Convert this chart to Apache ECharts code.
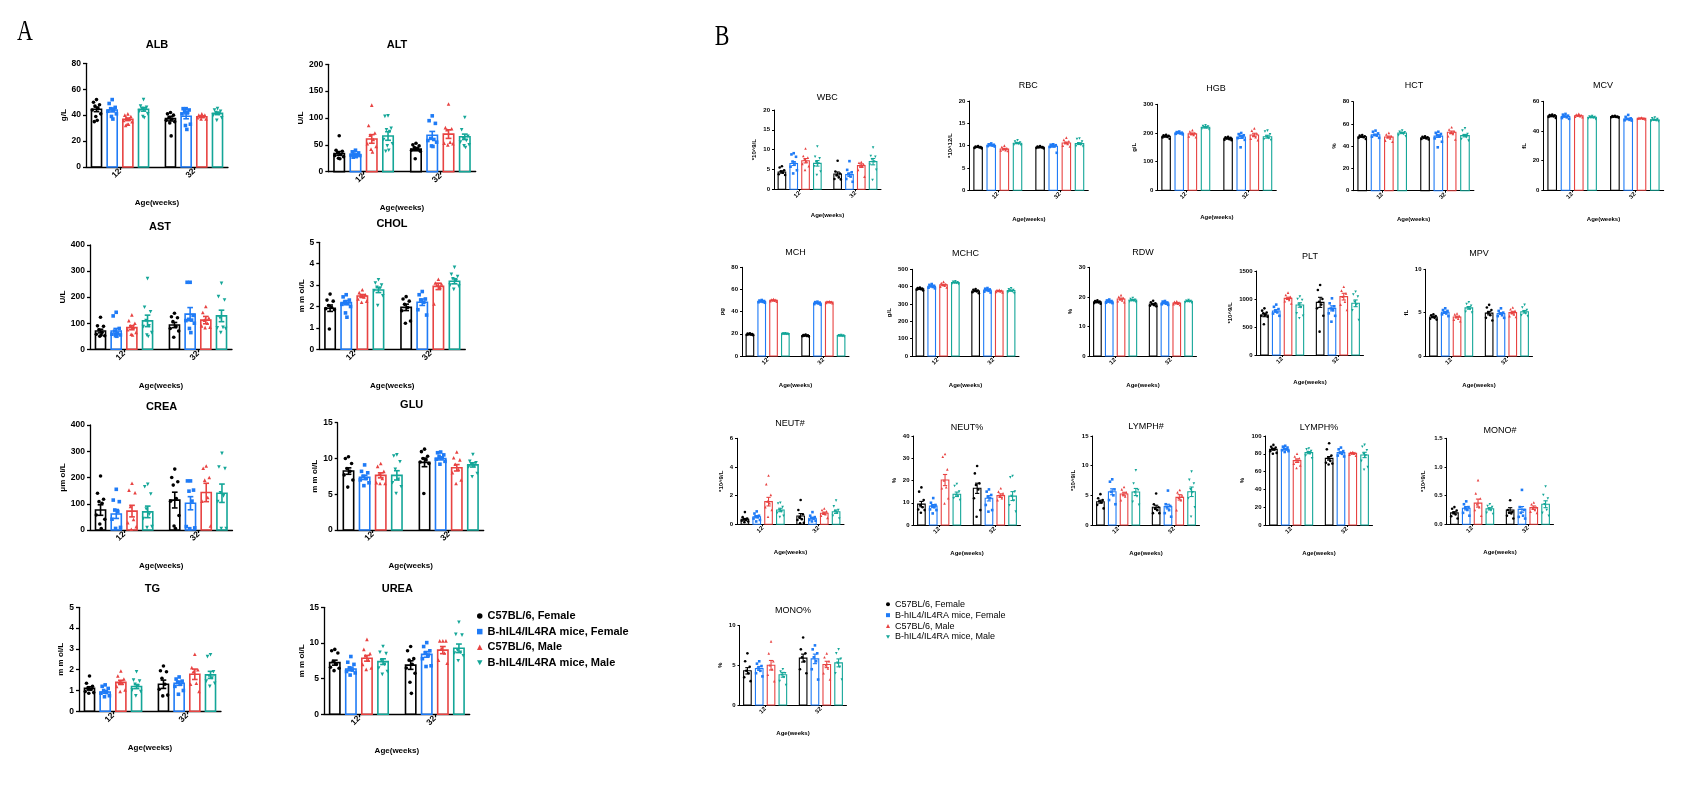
<!DOCTYPE html>
<html><head><meta charset="utf-8">
<script src="https://cdn.jsdelivr.net/npm/echarts@6/dist/echarts.min.js"></script>
<style>html,body{margin:0;padding:0;background:#fff}#c{width:1688px;height:785px}</style>
</head><body><div id="c"></div>
<script>
// ---------------- DATA ----------------
const groups = ['12', '32'];
const seriesNames = ['C57BL/6, Female', 'B-hIL4/IL4RA mice, Female', 'C57BL/6, Male', 'B-hIL4/IL4RA mice, Male'];
// each *_mean / *_sem : [series][group(12,32)] ; each *_pts : [series][group][points]

const ALB_mean = [[44.5, 37.3], [44, 39.1], [36.8, 38.8], [44.5, 41.4]];
const ALB_sem = [[1.8, 1.8], [1.5, 1.9], [1, 0.6], [1.4, 1]];
const ALB_pts = [[[52, 50, 48, 47, 45, 44, 41, 39, 36, 35], [42, 41, 40, 38, 37, 36, 35, 34, 24]],
  [[52, 49, 46, 45, 44, 43, 41, 39, 37], [45, 45, 44, 43, 42, 41, 33, 32, 29]],
  [[41, 40, 39, 38, 37, 36, 35, 33, 33, 32], [41, 40, 40, 39, 39, 38, 37, 37]],
  [[52, 47, 46, 45, 44, 43, 41, 39, 38], [45, 44, 43, 42, 41, 40, 38, 36]]];

const ALT_mean = [[34, 42], [31, 68], [61, 70], [66.5, 65]];
const ALT_sem = [[3.5, 3], [1.5, 7], [8, 8], [8, 5]];
const ALT_pts = [[[67, 40, 38, 35, 32, 30, 28, 25, 24], [53, 50, 48, 45, 42, 40, 38, 24]],
  [[40, 37, 35, 33, 32, 31, 30, 29, 28, 27], [104, 95, 90, 62, 60, 58, 55, 48, 47]],
  [[124, 86, 72, 68, 60, 52, 47, 42, 37], [126, 82, 80, 78, 55, 53, 52, 50]],
  [[104, 103, 81, 78, 75, 60, 52, 48, 40, 38], [101, 78, 66, 62, 58, 55, 50, 48, 45]]];

const AST_mean = [[70, 93], [70, 135], [83, 112], [109, 128]];
const AST_sem = [[7, 10], [10, 25], [8, 14], [22, 22]];
const AST_pts = [[[123, 90, 88, 75, 65, 58, 52, 50, 55], [138, 125, 121, 106, 87, 80, 70, 46]],
  [[142, 128, 80, 70, 62, 58, 55, 52, 50], [257, 257, 130, 115, 112, 110, 100, 80, 64]],
  [[132, 110, 100, 90, 85, 75, 65, 58, 55], [164, 141, 120, 112, 100, 90, 85, 83]],
  [[271, 161, 144, 110, 90, 87, 64, 55, 49], [253, 202, 189, 120, 84, 82, 80, 64]]];

const CHOL_mean = [[1.92, 1.96], [2.18, 2.2], [2.49, 2.94], [2.77, 3.18]];
const CHOL_sem = [[0.15, 0.15], [0.1, 0.15], [0.07, 0.15], [0.12, 0.12]];
const CHOL_pts = [[[2.58, 2.3, 2.25, 2.05, 1.95, 1.9, 1.85, 0.95], [2.46, 2.35, 2.25, 2.1, 1.95, 1.8, 1.32, 1.22]],
  [[2.55, 2.45, 2.3, 2.2, 2.15, 2.1, 2.0, 1.7, 1.5], [2.7, 2.55, 2.35, 2.3, 2.2, 1.85, 1.6]],
  [[2.78, 2.65, 2.55, 2.5, 2.45, 2.35, 2.25, 2.2], [3.27, 3.1, 3.05, 3.0, 2.9, 2.12]],
  [[3.25, 3.1, 3.0, 2.9, 2.85, 2.75, 2.5, 2.05], [3.83, 3.5, 3.4, 3.3, 3.2, 3.0, 2.95, 2.8]]];

const CREA_mean = [[76, 114], [61, 102], [72, 143], [69, 140]];
const CREA_sem = [[20, 30], [17, 25], [22, 35], [22, 35]];
const CREA_pts = [[[206, 140, 117, 108, 102, 57, 41, 23, 6], [232, 200, 184, 171, 120, 110, 55, 15, 6]],
  [[155, 114, 108, 76, 70, 41, 10, 6], [187, 187, 152, 148, 110, 13, 8, 5]],
  [[178, 152, 142, 90, 40, 28, 13, 3], [244, 235, 200, 190, 124, 110, 15]],
  [[174, 165, 137, 80, 60, 44, 13, 9], [292, 240, 234, 142, 130, 108, 6, 6]]];

const GLU_mean = [[8.24, 9.45], [7.36, 10.0], [7.64, 8.7], [7.64, 9.1]];
const GLU_sem = [[0.45, 0.6], [0.3, 0.2], [0.35, 0.45], [0.65, 0.3]];
const GLU_pts = [[[10.25, 10, 9.3, 8.6, 8.2, 7.7, 7.0, 6.0], [11.3, 10.95, 10.3, 10, 9.8, 9.5, 9.3, 5.1]],
  [[9.1, 8.2, 8.0, 7.5, 7.2, 7.0, 6.6, 6.2], [10.9, 10.8, 10.5, 10.3, 10.1, 9.9, 9.6, 9.2]],
  [[9.3, 8.9, 8.2, 7.8, 7.2, 6.6, 6.5, 6.5], [10.9, 10.1, 9.8, 9.2, 8.5, 8.0, 7.0, 6.5]],
  [[10.5, 10.35, 9.55, 8.5, 7.1, 6.6, 6.05, 5.1], [10.55, 9.6, 9.4, 9.2, 9.0, 8.8, 7.9, 7.45]]];

const TG_mean = [[1.1, 1.3], [0.93, 1.35], [1.39, 1.78], [1.19, 1.75]];
const TG_sem = [[0.08, 0.2], [0.06, 0.1], [0.1, 0.25], [0.1, 0.17]];
const TG_pts = [[[1.7, 1.35, 1.2, 1.1, 1.05, 0.95, 0.9, 0.87], [2.18, 1.95, 1.9, 1.59, 1.3, 1.06, 0.78, 0.74]],
  [[1.27, 1.2, 1.1, 1.0, 0.9, 0.87, 0.75, 0.7], [1.65, 1.55, 1.45, 1.4, 1.3, 1.2, 1.0, 0.82]],
  [[1.94, 1.7, 1.55, 1.4, 1.35, 1.2, 1.03, 0.95], [2.74, 2.1, 2.0, 1.9, 1.35, 1.3, 0.95]],
  [[1.9, 1.5, 1.45, 1.3, 1.2, 1.03, 0.95, 0.74], [2.72, 2.63, 1.9, 1.7, 1.6, 1.45, 1.35, 1.2]]];

const UREA_mean = [[7.24, 6.9], [6.36, 8.4], [7.85, 9.0], [7.38, 9.25]];
const UREA_sem = [[0.35, 0.6], [0.25, 0.4], [0.4, 0.5], [0.4, 0.6]];
const UREA_pts = [[[9.1, 8.9, 8.6, 7.4, 7.0, 6.6, 6.45, 6.12], [9.5, 8.9, 7.8, 7.6, 7.0, 6.5, 5.75, 4.5, 2.94]],
  [[8.1, 7.3, 7.0, 6.5, 6.2, 6.0, 5.8, 5.5], [10.05, 9.5, 8.9, 8.6, 8.3, 7.8, 6.8, 6.7]],
  [[10.5, 9.1, 8.5, 8.2, 7.6, 7.0, 6.5, 6.3], [10.3, 10.3, 10.3, 9.2, 8.6, 7.6, 7.15]],
  [[9.5, 8.7, 8.5, 7.5, 7.0, 6.5, 6.0, 5.6], [12.9, 11.2, 11.1, 9.0, 8.7, 8.6, 8.2, 7.5]]];

const WBC_mean = [[4.37, 3.87], [6.5, 3.7], [7.2, 5.97], [6.55, 6.97]];
const WBC_sem = [[0.3, 0.5], [0.5, 0.45], [0.55, 0.45], [0.7, 0.8]];
const WBC_pts = [[[5.8, 5.5, 4.8, 4.5, 4.2, 3.8, 3.6], [7.2, 4.5, 4.0, 3.6, 3.0, 2.6, 2.5]],
  [[9.1, 8.8, 8.2, 7, 6.5, 5.7, 4.8, 4.0], [7.1, 4.9, 4.3, 3.8, 3.2, 2.6, 1.9]],
  [[10.3, 8.4, 8.0, 7.5, 7.0, 6.4, 5.8, 4.9], [6.9, 6.7, 6.3, 6.0, 5.8, 4.9, 3.2]],
  [[10.8, 8.2, 7.8, 6.8, 6.5, 5.8, 4.5, 3.6], [10.5, 8.4, 8.2, 7.5, 7.0, 6.2, 4.9, 2.35]]];

const RBC_mean = [[9.65, 9.65], [10.1, 9.85], [9.25, 10.6], [10.55, 10.45]];
const RBC_sem = [[0.06, 0.06], [0.07, 0.2], [0.15, 0.2], [0.12, 0.2]];
const RBC_pts = [[[9.9, 9.8, 9.7, 9.7, 9.6, 9.5, 9.4], [9.9, 9.8, 9.7, 9.6, 9.6, 9.5, 9.4]],
  [[10.5, 10.3, 10.2, 10.1, 10.0, 9.9, 9.8], [10.3, 10.2, 10.1, 10.0, 9.9, 9.7, 8.4]],
  [[10.0, 9.7, 9.4, 9.2, 9.0, 8.9, 8.8], [11.8, 11.3, 11.0, 10.7, 10.4, 10.0, 9.8]],
  [[11.2, 10.9, 10.7, 10.6, 10.4, 10.2, 10.1], [11.6, 11.5, 10.9, 10.5, 10.2, 9.9, 9.8]]];

const HGB_mean = [[188, 181], [200, 186], [197, 193], [220, 187]];
const HGB_sem = [[2, 2], [1.5, 5], [3, 6], [3, 5]];
const HGB_pts = [[[194, 192, 190, 188, 186, 184, 180], [187, 185, 183, 181, 178, 176, 175]],
  [[205, 203, 201, 200, 198, 197, 195], [200, 196, 192, 190, 186, 182, 176, 150]],
  [[210, 205, 200, 197, 193, 188, 185], [216, 208, 198, 192, 185, 180, 175]],
  [[227, 224, 222, 220, 218, 215, 212], [208, 205, 195, 187, 182, 178, 175]]];

const HCT_mean = [[48.5, 47.6], [50.3, 49.1], [48.3, 52.5], [51.8, 49.5]];
const HCT_sem = [[0.4, 0.3], [0.6, 1.2], [0.8, 1.1], [0.5, 1.1]];
const HCT_pts = [[[50, 49.5, 49, 48.5, 48, 47.5, 46.5], [49, 48.5, 48, 47.5, 47, 46.5, 46]],
  [[54, 53, 51.5, 50, 49.5, 48.5, 47.5], [53, 52, 51, 50, 49, 47, 44, 39]],
  [[52, 50.5, 49, 48, 47, 45, 44], [57, 55, 53.5, 52, 51, 49, 46]],
  [[54, 53, 52.5, 52, 51, 50, 49], [56, 54, 51, 49.5, 48, 46.5, 45]]];

const MCV_mean = [[50.2, 49.7], [49.8, 48.2], [50.3, 48.5], [49.2, 47.5]];
const MCV_sem = [[0.3, 0.2], [0.4, 0.4], [0.3, 0.1], [0.3, 0.3]];
const MCV_pts = [[[51, 50.8, 50.5, 50, 49.8, 49.5, 48.8], [50.2, 50, 49.8, 49.6, 49.4, 49.2, 49]],
  [[51.5, 51, 50.3, 49.8, 49.2, 48.7, 48.2], [50.8, 49.5, 48.5, 48, 47.5, 47.2, 47]],
  [[51.6, 51, 50.6, 50.3, 50, 49.6, 49.2], [49, 48.8, 48.6, 48.5, 48.3, 48.2, 48]],
  [[50, 49.7, 49.4, 49.2, 48.9, 48.5, 48], [49, 48.5, 48, 47.5, 47, 46.8, 46.5]]];

const MCH_mean = [[19.6, 18.4], [49.3, 47.8], [50.2, 48.6], [20, 18.2]];
const MCH_sem = [[0.2, 0.2], [0.4, 0.4], [0.3, 0.2], [0.1, 0.1]];
const MCH_pts = [[[20.5, 20.2, 19.8, 19.5, 19.2, 19, 18.7], [19.3, 18.9, 18.6, 18.4, 18.1, 17.9, 17.6]],
  [[50.5, 50, 49.6, 49.2, 48.8, 48.5, 48], [49, 48.6, 48.2, 47.8, 47.3, 46.8, 46.2]],
  [[51.4, 51, 50.6, 50.2, 49.8, 49.4, 49], [49.4, 49.1, 48.8, 48.5, 48.2, 47.9, 47.6]],
  [[20.4, 20.2, 20.1, 20, 19.9, 19.7, 19.5], [18.9, 18.6, 18.4, 18.2, 18, 17.8, 17.5]]];

const MCHC_mean = [[387, 375], [402, 380], [410, 375], [423, 377]];
const MCHC_sem = [[2, 3], [3, 3], [4, 2], [2, 3]];
const MCHC_pts = [[[395, 392, 389, 387, 385, 382, 378], [386, 382, 378, 375, 372, 368, 362]],
  [[415, 410, 405, 402, 398, 394, 390], [392, 388, 384, 380, 376, 371, 366]],
  [[428, 420, 415, 410, 405, 400, 395], [382, 380, 378, 375, 372, 369, 366]],
  [[431, 428, 425, 423, 421, 418, 415], [390, 385, 381, 377, 372, 367, 361]]];

const RDW_mean = [[18.3, 17.6], [18.5, 18.0], [19.3, 17.9], [18.9, 18.5]];
const RDW_sem = [[0.15, 0.2], [0.15, 0.15], [0.3, 0.15], [0.2, 0.1]];
const RDW_pts = [[[18.8, 18.6, 18.4, 18.2, 18.1, 17.9, 17.7], [18.7, 18.2, 17.8, 17.5, 17.2, 17, 16.8]],
  [[19.1, 18.8, 18.6, 18.4, 18.2, 18, 17.9], [18.6, 18.4, 18.1, 17.9, 17.7, 17.5, 17.3]],
  [[20.6, 20, 19.6, 19.2, 18.8, 18.5, 18.2], [18.5, 18.3, 18.1, 17.9, 17.7, 17.5, 17.3]],
  [[19.6, 19.3, 19, 18.8, 18.6, 18.4, 18.2], [18.9, 18.7, 18.6, 18.5, 18.4, 18.2, 18.0]]];

const PLT_mean = [[714, 940], [786, 833], [1012, 1042], [893, 923]];
const PLT_sem = [[30, 90], [25, 45], [20, 60], [40, 60]];
const PLT_pts = [[[833, 792, 760, 744, 720, 700, 685, 548], [1250, 1160, 1000, 950, 900, 833, 700, 417]],
  [[900, 860, 820, 790, 760, 740, 700], [1012, 923, 870, 830, 800, 744, 700, 595]],
  [[1113, 1071, 1040, 1010, 982, 960, 920], [1220, 1149, 1100, 1040, 950, 900, 804]],
  [[1042, 1000, 982, 900, 850, 744, 700, 655], [1130, 1080, 1042, 950, 900, 800, 625]]];

const MPV_mean = [[4.5, 4.95], [5.05, 4.9], [4.5, 5.0], [5.55, 5.1]];
const MPV_sem = [[0.07, 0.2], [0.1, 0.1], [0.1, 0.15], [0.15, 0.15]];
const MPV_pts = [[[4.8, 4.7, 4.6, 4.5, 4.4, 4.3, 4.2], [5.9, 5.6, 5.3, 5.0, 4.7, 4.4, 4.1]],
  [[5.5, 5.3, 5.2, 5.0, 4.9, 4.8, 4.6], [5.5, 5.2, 5.0, 4.9, 4.7, 4.6, 4.4]],
  [[4.9, 4.8, 4.6, 4.5, 4.3, 4.2, 4.0], [5.6, 5.4, 5.2, 5.0, 4.8, 4.6, 4.5]],
  [[6.2, 6.0, 5.8, 5.6, 5.4, 5.1, 5.0], [5.9, 5.6, 5.3, 5.1, 4.9, 4.7, 4.6]]];

const NEUTN_mean = [[0.35, 0.58], [0.53, 0.42], [1.58, 0.77], [1.0, 0.88]];
const NEUTN_sem = [[0.06, 0.17], [0.08, 0.06], [0.3, 0.08], [0.12, 0.12]];
const NEUTN_pts = [[[0.85, 0.5, 0.4, 0.35, 0.3, 0.25, 0.2, 0.15], [1.7, 1.0, 0.7, 0.5, 0.35, 0.3, 0.1, 0.07]],
  [[0.9, 0.75, 0.6, 0.55, 0.5, 0.4, 0.3, 0.2], [0.85, 0.6, 0.5, 0.45, 0.4, 0.3, 0.25, 0.2]],
  [[3.4, 2.8, 2.05, 1.6, 1.47, 1.2, 1.0, 0.53], [1.1, 1.0, 0.9, 0.8, 0.7, 0.6, 0.45]],
  [[1.5, 1.45, 1.2, 1.0, 0.9, 0.8, 0.6, 0.5], [1.65, 1.25, 1.0, 0.9, 0.8, 0.6, 0.4]]];

const NEUTP_mean = [[9.4, 16.5], [8.5, 12], [20.2, 13.2], [13.8, 13]];
const NEUTP_sem = [[1.2, 2.3], [0.7, 1.2], [2.5, 0.8], [1, 2]];
const NEUTP_pts = [[[16.9, 15, 11.2, 9, 8, 7, 6.7, 5.5], [26.5, 23.2, 18.7, 18, 16, 12, 6.7, 3.7]],
  [[12.1, 10, 9, 8.5, 8, 7, 6.7, 5.2], [16, 15, 13.5, 12.7, 12, 9, 6.7, 6]],
  [[31.9, 30.7, 25, 20, 17, 16.5, 12, 9.7], [16.5, 15, 14.2, 13, 12, 11.2]],
  [[18.4, 17.5, 15, 13.5, 13, 12, 11.2], [22, 21.4, 15, 13, 11, 8.9, 6]]];

const LYMPHN_mean = [[3.93, 2.98], [5.6, 3.1], [5.22, 4.66], [5.56, 5.6]];
const LYMPHN_sem = [[0.25, 0.35], [0.5, 0.4], [0.3, 0.45], [0.6, 0.8]];
const LYMPHN_pts = [[[5.2, 4.5, 4.2, 4.0, 3.8, 3.4, 2.8], [5.3, 3.5, 3.0, 2.8, 2.5, 2.0, 2.0]],
  [[7.7, 7.3, 6.0, 5.6, 5.0, 4.2, 3.5], [5.8, 3.5, 3.2, 3.0, 2.5, 2.0, 1.4]],
  [[6.4, 6.0, 5.5, 5.2, 4.8, 4.2], [5.9, 5.5, 5.0, 4.6, 4.2, 2.5]],
  [[9.2, 7.0, 5.9, 5.5, 4.8, 3.9, 3.4], [9.0, 7.6, 7.0, 6.0, 5.5, 4.5, 3.0, 1.4]]];

const LYMPHP_mean = [[85, 74.9], [85, 81.3], [72.3, 80.5], [81.3, 78.7]];
const LYMPHP_sem = [[1, 2], [0.8, 1], [2, 0.6], [1.2, 3]];
const LYMPHP_pts = [[[90, 88, 87, 86, 85, 83, 81, 80], [91.8, 85, 78, 75, 72, 70, 69, 68]],
  [[89, 88, 87, 86, 85, 84, 83, 82], [87, 85, 83, 81, 80, 78, 77]],
  [[80, 77, 75, 73, 71, 69, 67, 64], [82, 81.5, 81, 80.5, 80, 79, 78]],
  [[86, 85, 83, 82, 80, 78, 75], [90, 88, 84, 80, 78, 72, 65, 62]]];

const MONON_mean = [[0.2, 0.25], [0.28, 0.26], [0.37, 0.29], [0.27, 0.35]];
const MONON_sem = [[0.02, 0.04], [0.03, 0.05], [0.07, 0.03], [0.02, 0.06]];
const MONON_pts = [[[0.3, 0.27, 0.24, 0.2, 0.17, 0.14, 0.1], [0.42, 0.25, 0.22, 0.2, 0.19, 0.15, 0.1]],
  [[0.4, 0.35, 0.3, 0.28, 0.25, 0.2, 0.15], [0.6, 0.3, 0.25, 0.2, 0.15, 0.13, 0.1]],
  [[0.77, 0.54, 0.45, 0.35, 0.3, 0.25, 0.15], [0.38, 0.35, 0.3, 0.28, 0.25, 0.22, 0.2]],
  [[0.35, 0.32, 0.3, 0.27, 0.24, 0.2, 0.18], [0.66, 0.51, 0.45, 0.35, 0.25, 0.2, 0.15]]];

const MONOP_mean = [[4.3, 5.9], [4.6, 5.8], [5.0, 5.1], [3.8, 5.3]];
const MONOP_sem = [[0.4, 0.5], [0.25, 0.6], [0.6, 0.4], [0.3, 0.5]];
const MONOP_pts = [[[6.5, 5.5, 4.8, 4.3, 4, 3.5, 3], [8.5, 7, 6.5, 6, 5.5, 4.5, 4]],
  [[5.5, 5.2, 4.9, 4.6, 4.3, 4, 3.6], [7.5, 7, 6.5, 6, 5.5, 4.5, 3.2]],
  [[8, 6.5, 5.5, 5, 4.5, 3.8, 3], [6.5, 6, 5.5, 5, 4.6, 4, 3.2]],
  [[4.5, 4.2, 4, 3.8, 3.5, 3, 2.5], [7, 6.5, 5.8, 5.3, 4.8, 4, 3.2]]];

// panel specs: title, y unit, y max, y tick step, data
const panels = [
  ['ALB', 'g/L', 80, 20, ALB_mean, ALB_sem, ALB_pts],
  ['ALT', 'U/L', 200, 50, ALT_mean, ALT_sem, ALT_pts],
  ['AST', 'U/L', 400, 100, AST_mean, AST_sem, AST_pts],
  ['CHOL', 'm m ol/L', 5, 1, CHOL_mean, CHOL_sem, CHOL_pts],
  ['CREA', 'μm ol/L', 400, 100, CREA_mean, CREA_sem, CREA_pts],
  ['GLU', 'm m ol/L', 15, 5, GLU_mean, GLU_sem, GLU_pts],
  ['TG', 'm m ol/L', 5, 1, TG_mean, TG_sem, TG_pts],
  ['UREA', 'm m ol/L', 15, 5, UREA_mean, UREA_sem, UREA_pts],
  ['WBC', '*10^9/L', 20, 5, WBC_mean, WBC_sem, WBC_pts],
  ['RBC', '*10^12/L', 20, 5, RBC_mean, RBC_sem, RBC_pts],
  ['HGB', 'g/L', 300, 100, HGB_mean, HGB_sem, HGB_pts],
  ['HCT', '%', 80, 20, HCT_mean, HCT_sem, HCT_pts],
  ['MCV', 'fL', 60, 20, MCV_mean, MCV_sem, MCV_pts],
  ['MCH', 'pg', 80, 20, MCH_mean, MCH_sem, MCH_pts],
  ['MCHC', 'g/L', 500, 100, MCHC_mean, MCHC_sem, MCHC_pts],
  ['RDW', '%', 30, 10, RDW_mean, RDW_sem, RDW_pts],
  ['PLT', '*10^9/L', 1500, 500, PLT_mean, PLT_sem, PLT_pts],
  ['MPV', 'fL', 10, 5, MPV_mean, MPV_sem, MPV_pts],
  ['NEUT#', '*10^9/L', 6, 2, NEUTN_mean, NEUTN_sem, NEUTN_pts],
  ['NEUT%', '%', 40, 10, NEUTP_mean, NEUTP_sem, NEUTP_pts],
  ['LYMPH#', '*10^9/L', 15, 5, LYMPHN_mean, LYMPHN_sem, LYMPHN_pts],
  ['LYMPH%', '%', 100, 20, LYMPHP_mean, LYMPHP_sem, LYMPHP_pts],
  ['MONO#', '*10^9/L', 1.5, 0.5, MONON_mean, MONON_sem, MONON_pts],
  ['MONO%', '%', 10, 5, MONOP_mean, MONOP_sem, MONOP_pts]
];

// ---------------- LAYOUT ----------------
// [style, gridLeft, gridTop, gridWidth, gridHeight, titleX, titleY, xNameGap]
const layout = {
  'ALB': ['A', 86, 63.3, 142, 103.7, 157, 45, 32],
  'ALT': ['A', 328.3, 64.3, 147.4, 107.4, 397, 45, 32],
  'AST': ['A', 90, 245, 142, 104.3, 160, 226.7, 32],
  'CHOL': ['A', 319.3, 242.3, 146, 107, 392, 224, 32],
  'CREA': ['A', 90, 425, 142.5, 105, 161.7, 406.7, 32],
  'GLU': ['A', 337.7, 422.7, 146, 107.3, 411.7, 404.5, 32],
  'TG': ['A', 79, 607.3, 142, 104, 152.3, 589.3, 32],
  'UREA': ['A', 324, 607.3, 145.7, 107, 397.3, 589.3, 32],
  'WBC': ['B', 774, 110, 107, 79.3, 827.3, 97.3, 23],
  'RBC': ['B', 969.3, 101, 119, 89.3, 1028.3, 86, 26],
  'HGB': ['B', 1157.3, 104.3, 119, 86, 1216, 89, 24],
  'HCT': ['B', 1353.3, 101.7, 120.6, 89, 1414, 86, 26],
  'MCV': ['B', 1543.3, 101.3, 120.4, 89, 1603, 86, 26],
  'MCH': ['B', 742, 267.3, 107, 88.7, 795.5, 252.5, 26],
  'MCHC': ['B', 912, 269.3, 107, 86.7, 965.6, 254, 26],
  'RDW': ['B', 1089.5, 267.3, 107, 88.7, 1143, 252.5, 26],
  'PLT': ['B', 1256.5, 271, 107, 84, 1310, 257, 24],
  'MPV': ['B', 1425.5, 269.3, 107, 86.7, 1479, 254, 26],
  'NEUT#': ['B', 737, 438.3, 107, 86, 790, 423.5, 25],
  'NEUT%': ['B', 913.5, 436, 107, 89, 967, 428, 25],
  'LYMPH#': ['B', 1092.5, 436, 107, 89, 1146, 427, 25],
  'LYMPH%': ['B', 1265.5, 436, 107, 89, 1319, 428, 25],
  'MONO#': ['B', 1446.5, 438.3, 107, 86, 1500, 431, 25],
  'MONO%': ['B', 739.5, 625.5, 107, 79.5, 793, 611, 25]
};
const STY = {
  A: {title: 11, titleW: 'bold', tick: 8.5, name: 8, sym: 3.6, lw: 1.6, axW: 1.3, tickLen: 3, lblMargin: 3, yLblMargin: 5, charW: 4.8, yExtra: 7},
  B: {title: 9, titleW: 'normal', tick: 6, name: 6, sym: 2.6, lw: 1.1, axW: 1, tickLen: 2, lblMargin: 3, yLblMargin: 4, charW: 3.4, yExtra: 7.5}
};
const FONT = '"Liberation Sans", Arial, Helvetica, sans-serif';
const COLORS = ['#000000', '#1f7bf6', '#e84342', '#14a698'];
const SYMBOLS = ['circle', 'rect', 'triangle', 'triangle'];
const SYMROT = [0, 0, 0, 180];
const ICONS = ['circle', 'rect', 'triangle', 'path://M0,0L10,0L5,9Z'];
const XMIN = -0.46, XMAX = 1.46, PITCH = 0.212, BW = 0.136;
const JIT = [0, -0.3, 0.3, -0.15, 0.15, -0.42, 0.42, -0.07, 0.07, -0.22, 0.22, -0.36, 0.36];

const option = {
  animation: false, backgroundColor: '#fff',
  grid: [], xAxis: [], yAxis: [], series: [], graphic: [],
  legend: [
    {left: 472, top: 604.5, orient: 'vertical', itemGap: 2.6, itemWidth: 5.5, itemHeight: 5.5, selectedMode: false,
     textStyle: {fontSize: 11, fontWeight: 'bold', fontFamily: FONT, color: '#000', lineHeight: 13},
     data: seriesNames.map((n, i) => ({name: n, icon: ICONS[i]}))},
    {left: 881, top: 594, orient: 'vertical', itemGap: 0.4, itemWidth: 4, itemHeight: 4, selectedMode: false,
     textStyle: {fontSize: 9, fontFamily: FONT, color: '#000', lineHeight: 10.5},
     data: seriesNames.map((n, i) => ({name: n, icon: ICONS[i]}))}
  ]
};

function barRenderer(s, S) {
  return function (params, api) {
    const g = api.value(0), m = api.value(1), e = api.value(2);
    const cx = g + (s - 1.5) * PITCH;
    const bl = api.coord([cx - BW / 2, 0]);
    const tr = api.coord([cx + BW / 2, m]);
    const c = api.coord([cx, m]);
    const up = api.coord([cx, m + e]);
    const dn = api.coord([cx, Math.max(0, m - e)]);
    const capL = api.coord([cx - BW * 0.28, 0])[0], capR = api.coord([cx + BW * 0.28, 0])[0];
    const st = {stroke: COLORS[s], lineWidth: S.lw, fill: 'none'};
    return {type: 'group', children: [
      {type: 'rect', shape: {x: bl[0], y: tr[1], width: tr[0] - bl[0], height: bl[1] - tr[1]}, style: {fill: 'none', stroke: COLORS[s], lineWidth: S.lw}},
      {type: 'line', shape: {x1: c[0], y1: up[1], x2: c[0], y2: dn[1]}, style: st},
      {type: 'line', shape: {x1: capL, y1: up[1], x2: capR, y2: up[1]}, style: st},
      {type: 'line', shape: {x1: capL, y1: dn[1], x2: capR, y2: dn[1]}, style: st}
    ]};
  };
}

panels.forEach((p, i) => {
  const [key, unit, ymax, step, mean, sem, pts] = p;
  const L = layout[key];
  const S = STY[L[0]];
  const decimals = step < 1 ? 1 : 0;
  const maxChars = Math.max(...[0, ymax].map(v => v.toFixed(decimals).length));
  option.grid.push({left: L[1], top: L[2], width: L[3], height: L[4], containLabel: false, outerBoundsMode: 'none'});
  option.xAxis.push({
    gridIndex: i, type: 'value', min: XMIN, max: XMAX,
    name: 'Age(weeks)', nameLocation: 'middle', nameGap: L[7],
    nameTextStyle: {fontSize: S.name, fontWeight: 'bold', fontFamily: FONT, color: '#000'},
    axisLine: {show: true, onZero: false, lineStyle: {color: '#000', width: S.axW}},
    axisTick: {show: true, customValues: [0, 1], length: S.tickLen, lineStyle: {color: '#000', width: S.axW}},
    axisLabel: {show: true, customValues: [0, 1], rotate: 45, margin: S.lblMargin,
      formatter: v => groups[Math.round(v)], fontSize: S.tick, fontWeight: 'bold', fontFamily: FONT, color: '#000'},
    splitLine: {show: false}
  });
  option.yAxis.push({
    gridIndex: i, type: 'value', min: 0, max: ymax, interval: step,
    name: unit, nameLocation: 'middle', nameRotate: 90, nameGap: maxChars * S.charW + S.yExtra + 2,
    nameTextStyle: {fontSize: S.name, fontWeight: 'bold', fontFamily: FONT, color: '#000'},
    axisLine: {show: true, onZero: false, lineStyle: {color: '#000', width: S.axW}},
    axisTick: {show: true, length: S.tickLen, lineStyle: {color: '#000', width: S.axW}},
    axisLabel: {margin: S.yLblMargin, fontSize: S.tick, fontWeight: 'bold', fontFamily: FONT, color: '#000',
      formatter: v => v.toFixed(decimals)},
    splitLine: {show: false}
  });
  for (let s = 0; s < 4; s++) {
    const sdata = [];
    for (let g = 0; g < 2; g++) {
      pts[s][g].forEach((v, k) => {
        sdata.push([g + (s - 1.5) * PITCH + JIT[k % JIT.length] * BW, v]);
      });
    }
    option.series.push({
      type: 'scatter', name: seriesNames[s], xAxisIndex: i, yAxisIndex: i, silent: true, z: 4,
      symbol: SYMBOLS[s], symbolRotate: SYMROT[s], symbolSize: S.sym,
      itemStyle: {color: COLORS[s], opacity: 1}, data: sdata
    });
    option.series.push({
      type: 'custom', name: seriesNames[s], xAxisIndex: i, yAxisIndex: i, silent: true, z: 3,
      itemStyle: {color: COLORS[s]},
      renderItem: barRenderer(s, S),
      encode: {x: 0, y: 1},
      data: [0, 1].map(g => [g, mean[s][g], sem[s][g]])
    });
  }
  option.graphic.push({type: 'text', x: L[5], y: L[6], silent: true,
    style: {text: key, font: S.titleW + ' ' + S.title + 'px ' + FONT, fill: '#000',
      align: 'center', verticalAlign: 'middle', textAlign: 'center', textVerticalAlign: 'middle'}});
});

option.graphic.push({type: 'text', x: 25, y: 32, scaleY: 1.35, silent: true,
  style: {text: 'A', font: '22px "Liberation Serif", "DejaVu Serif", serif', fill: '#000',
    align: 'center', verticalAlign: 'middle', textAlign: 'center', textVerticalAlign: 'middle'}});
option.graphic.push({type: 'text', x: 722, y: 37, scaleY: 1.35, silent: true,
  style: {text: 'B', font: '22px "Liberation Serif", "DejaVu Serif", serif', fill: '#000',
    align: 'center', verticalAlign: 'middle', textAlign: 'center', textVerticalAlign: 'middle'}});

const chart = echarts.init(document.getElementById('c'), null, {renderer: 'canvas', width: 1688, height: 785});
chart.setOption(option);
</script>
</body></html>
